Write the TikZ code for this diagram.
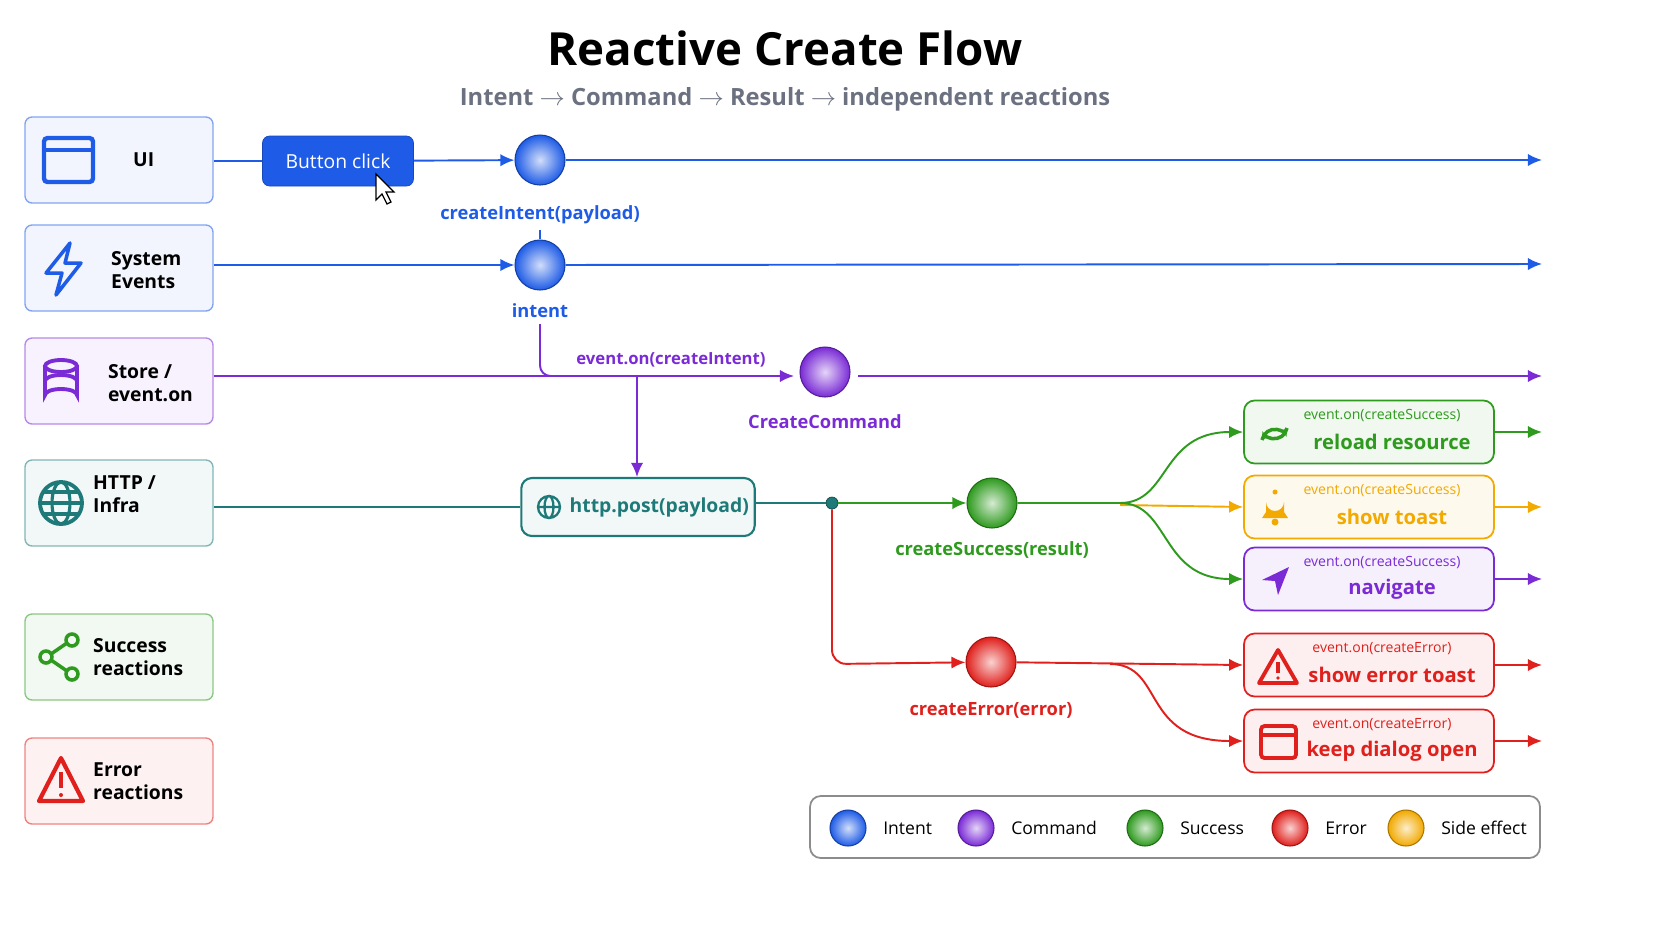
\documentclass[tikz,border=0pt]{standalone}
\usepackage{fontspec}
\setmainfont{Open Sans}
\usetikzlibrary{positioning,arrows.meta,shapes.geometric}
\definecolor{cIntent}{HTML}{1E5BE6}
\definecolor{cCmd}{HTML}{7A2BD6}
\definecolor{cOk}{HTML}{2E9A1E}
\definecolor{cErr}{HTML}{E0201C}
\definecolor{cSide}{HTML}{F2A900}
\definecolor{cHttp}{HTML}{1E7A78}
\definecolor{cSub}{HTML}{6B7180}
\tikzset{
  lane/.style = {rectangle, rounded corners=4pt, draw=#1!55, fill=#1!6,
                 line width=0.8pt, minimum width=3.76cm, minimum height=1.72cm},
  ball/.style = {circle, inner color=#1!20!white, outer color=#1, draw=#1!70!black,
                 line width=0.6pt, minimum size=1cm, inner sep=0pt},
  lball/.style = {ball=#1, minimum size=0.72cm},
  wire/.style = {draw=#1, line width=1.1pt, -{Latex[length=8pt,width=7pt]}},
  plain/.style = {draw=#1, line width=1.1pt},
  blabel/.style = {text=#1, font=\bfseries\fontsize{10.4}{12}\selectfont},
  react/.style = {rectangle, rounded corners=6pt, draw=#1, fill=#1!7, line width=1pt,
                  minimum width=5cm, minimum height=1.26cm},
  lanetxt/.style = {font=\bfseries\fontsize{11}{13}\selectfont, align=left, anchor=west},
  legtxt/.style = {right=6pt of #1, font=\fontsize{10}{12}\selectfont},
}
\begin{document}
\begin{tikzpicture}[x=0.02cm,y=-0.02cm]
\useasboundingbox (0,0) rectangle (1672,941);
% title
\node[font=\bfseries\fontsize{26}{30}\selectfont] (title) at (785,48) {Reactive Create Flow};
\node[font=\bfseries\fontsize{13.5}{16}\selectfont, text=cSub] (sub) at (785,99)
  {Intent $\rightarrow$ Command $\rightarrow$ Result $\rightarrow$ independent reactions};

% lanes
\node[lane=cIntent] (ui) at (119,160) {};
\node[lane=cIntent] (sys) at (119,268) {};
\node[lane=cCmd] (store) at (119,381) {};
\node[lane=cHttp] (http) at (119,503) {};
\node[lane=cOk] (okl) at (119,657) {};
\node[lane=cErr] (errl) at (119,781) {};
\node[lanetxt] at (127,160) {UI};
\node[lanetxt] at (105,270) {System\\Events};
\node[lanetxt] at (102,383) {Store /\\event.on};
\node[lanetxt] at (87,494) {HTTP /\\Infra};
\node[lanetxt] at (87,657) {Success\\reactions};
\node[lanetxt] at (87,781) {Error\\reactions};

% lane icons
\draw[cIntent, line width=2.5pt, rounded corners=2pt] (44,138) rectangle (93,182);
\draw[cIntent, line width=2.5pt] (44,150) -- (93,150);
\draw[cIntent, line width=2pt, line join=round] (70,243) -- (46,273) -- (62,273) -- (56,295) -- (81,263) -- (65,263) -- cycle;
\draw[cCmd, line width=2.2pt] (45,366) -- (45,395) arc[start angle=180,end angle=360,x radius=16,y radius=6] -- (77,366);
\draw[cCmd, line width=2.2pt] (61,366) ellipse[x radius=16,y radius=6];
\draw[cCmd, line width=2.2pt] (45,381) arc[start angle=180,end angle=360,x radius=16,y radius=6];
\draw[cHttp, line width=2.2pt] (61,503) circle[radius=21];
\draw[cHttp, line width=1.8pt] (61,503) ellipse[x radius=9,y radius=21];
\draw[cHttp, line width=1.8pt] (40,503) -- (82,503) (44,492) -- (78,492) (44,514) -- (78,514);
\draw[cOk, line width=2pt] (46,657) circle[radius=6] (72,640) circle[radius=6] (72,674) circle[radius=6];
\draw[cOk, line width=2pt] (51,654) -- (67,643) (51,660) -- (67,671);
\draw[cErr, line width=2.4pt, line join=round] (61,758) -- (83,801) -- (39,801) -- cycle;
\draw[cErr, line width=2.6pt] (61,772) -- (61,788);
\fill[cErr] (61,795) circle[radius=2];

% UI row
\node[rectangle, rounded corners=4pt, fill=cIntent, draw=cIntent!80!black, text=white,
  minimum width=3.02cm, minimum height=1cm, font=\fontsize{11}{13}\selectfont] (btn) at (338,161) {Button click};
\draw[fill=white, draw=black, line width=0.7pt] (376,174) -- (376,200) -- (382,194) -- (387,204) -- (391,202) -- (386,192) -- (394,192) -- cycle;
\node[ball=cIntent] (ci) at (540,160) {};
\node[blabel=cIntent, below=8pt of ci] (cil) {createIntent(payload)};
\coordinate (uiend) at (1542,160);
\draw[plain=cIntent] (ui.east |- btn) -- (btn);
\draw[wire=cIntent] (btn) -- (ci);
\draw[wire=cIntent] (ci) -- (uiend);

% system row
\node[ball=cIntent] (in) at (540,265) {};
\node[blabel=cIntent, below=4pt of in] (inl) {intent};
\coordinate (sysend) at (1542,264);
\draw[plain=cIntent] (cil) -- (in);
\draw[wire=cIntent] (sys.east |- in) -- (in);
\draw[wire=cIntent] (in) -- (sysend);

% store row
\node[ball=cCmd] (cmd) at (825,372) {};
\node[blabel=cCmd, below=6pt of cmd] (cmdl) {CreateCommand};
\node[blabel=cCmd, font=\bfseries\fontsize{9.5}{11}\selectfont] (evl) at (671,360) {event.on(createIntent)};
\coordinate (storeend) at (1542,376);
\coordinate (split) at (637,376);
\draw[wire=cCmd] (store.east |- split) -- (794,376);
\draw[plain=cCmd, rounded corners=6pt] (inl) -- (540,376) -- (split);
\draw[wire=cCmd] (858,376) -- (storeend);

% http row
\node[rectangle, rounded corners=6pt, draw=cHttp, fill=cHttp!6, line width=1.2pt,
  minimum width=4.64cm, minimum height=1.16cm, blabel=cHttp,
  font=\bfseries\fontsize{11}{13}\selectfont] (post) at (638,507) {\hspace{2.2em}http.post(payload)};
\draw[cHttp, line width=1.3pt] (549,507) circle[radius=11] (549,507) ellipse[x radius=4.5,y radius=11] (538,507) -- (560,507);
\draw[wire=cCmd] (split) -- (post.north -| split);
\draw[plain=cHttp] (http.east |- post) -- (post);
\node[circle, fill=cHttp, draw=cHttp!60!black, inner sep=0pt, minimum size=0.24cm] (dot) at (832,503) {};
\draw[plain=cHttp] (post.east |- dot) -- (dot);

% results
\node[ball=cOk] (ok) at (992,503) {};
\node[blabel=cOk, below=4pt of ok] {createSuccess(result)};
\node[ball=cErr] (err) at (991,662) {};
\node[blabel=cErr, below=5pt of err] {createError(error)};
\draw[wire=cOk] (dot) -- (ok);
\draw[wire=cErr, rounded corners=8pt] (dot) -- (832,664) -- (err);

% reactions
\newcommand{\reaction}[5]{%
  \node[react=#1] (#2) at (1369,#3) {};
  \node[text=#1, font=\fontsize{8}{10}\selectfont] at (1382,#3-16) {#4};
  \node[text=#1, font=\bfseries\fontsize{11.5}{14}\selectfont] at (1392,#3+10) {#5};
  \coordinate (#2end) at (1542,#3);
  \draw[wire=#1] (#2) -- (#2end);}
\reaction{cOk}{reload}{432}{event.on(createSuccess)}{reload resource}
\reaction{cSide}{toast}{507}{event.on(createSuccess)}{show toast}
\reaction{cCmd}{nav}{579}{event.on(createSuccess)}{navigate}
\reaction{cErr}{etoast}{665}{event.on(createError)}{show error toast}
\reaction{cErr}{keep}{741}{event.on(createError)}{keep dialog open}

% reaction icons
\draw[cOk, line width=2pt, -{Latex[length=5pt]}] (1287,428) arc[start angle=10,end angle=160,radius=13];
\draw[cOk, line width=2pt, -{Latex[length=5pt]}] (1262,440) arc[start angle=190,end angle=340,radius=13];
\fill[cSide] (1262,518) -- (1266,512) -- (1266,502) arc[start angle=180,end angle=0,radius=9] -- (1284,512) -- (1288,518) -- cycle;
\fill[cSide] (1275,522) circle[radius=3.5] (1275,492) circle[radius=2.5];
\fill[cCmd] (1289,567) -- (1262,580) -- (1275,581) -- (1278,595) -- cycle;
\draw[cErr, line width=2.2pt, line join=round] (1278,650) -- (1297,683) -- (1259,683) -- cycle;
\draw[cErr, line width=2.2pt] (1278,662) -- (1278,673);
\fill[cErr] (1278,678) circle[radius=1.8];
\draw[cErr, line width=2.2pt, rounded corners=2pt] (1261,726) rectangle (1296,758);
\draw[cErr, line width=2.2pt] (1261,735) -- (1296,735);

% fan out
\draw[wire=cOk] (ok) -- (1120,503) .. controls (1170,503) and (1160,432) .. (reload.west);
\draw[wire=cSide] (1120,505) -- (toast.west);
\draw[wire=cOk] (1120,503) .. controls (1170,503) and (1160,579) .. (nav.west);
\draw[wire=cErr] (err) -- (etoast.west);
\draw[wire=cErr] (1110,664) .. controls (1165,664) and (1140,741) .. (keep.west);

% legend
\node[rectangle, rounded corners=6pt, draw=black!45, fill=white, line width=1pt,
  minimum width=14.6cm, minimum height=1.24cm] (legend) at (1175,827) {};
\node[lball=cIntent] (lg1) at (848,828) {};
\node[legtxt=lg1] {Intent};
\node[lball=cCmd] (lg2) at (976,828) {};
\node[legtxt=lg2] {Command};
\node[lball=cOk] (lg3) at (1145,828) {};
\node[legtxt=lg3] {Success};
\node[lball=cErr] (lg4) at (1290,828) {};
\node[legtxt=lg4] {Error};
\node[lball=cSide] (lg5) at (1406,828) {};
\node[legtxt=lg5] {Side effect};
\end{tikzpicture}
\end{document}
